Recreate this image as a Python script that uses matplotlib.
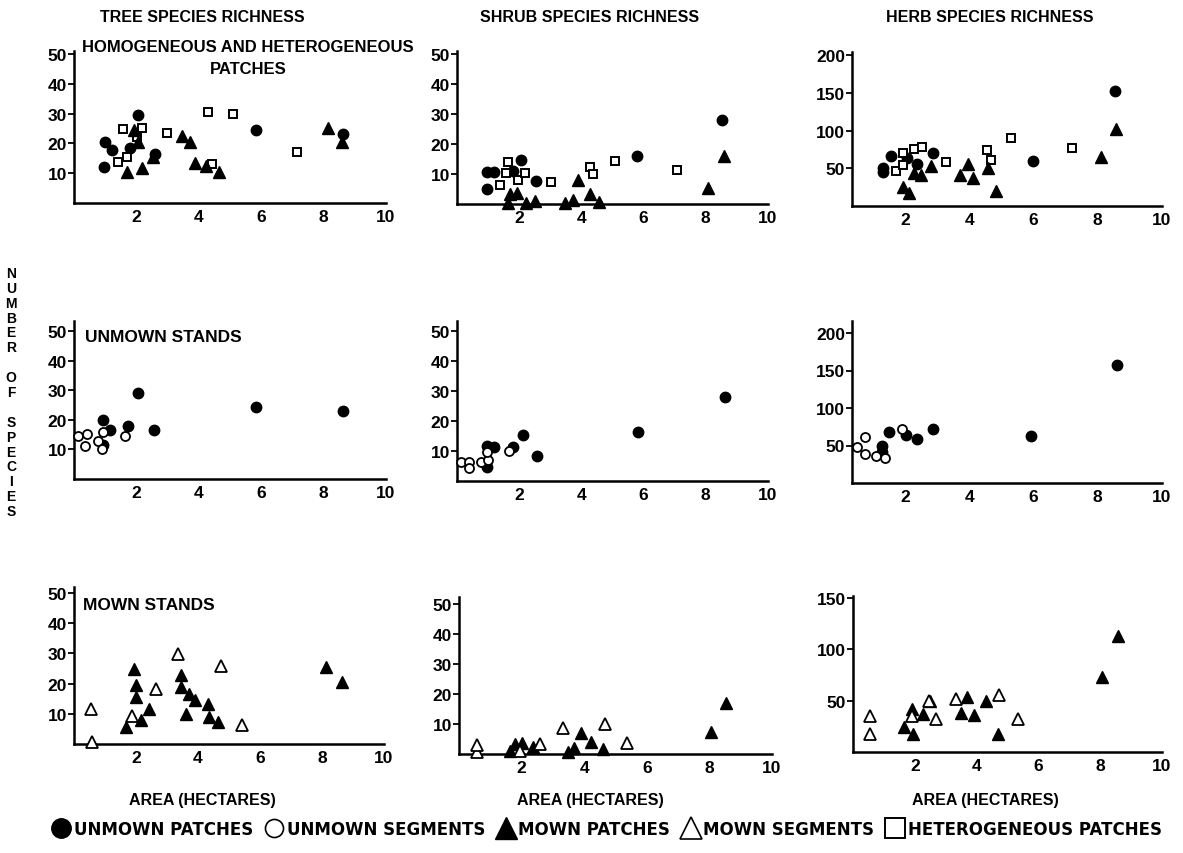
import matplotlib
matplotlib.use('Agg')
import matplotlib.pyplot as plt
from matplotlib.lines import Line2D

plt.rcParams['font.family'] = ['Liberation Sans', 'DejaVu Sans']
plt.rcParams['font.weight'] = 'bold'

# ---- row 1: homogeneous and heterogeneous patches ----
tree1_up_x = [1.0, 1.22, 0.97, 2.05, 1.79, 2.6, 5.82, 8.63]
tree1_up_y = [20.3, 17.8, 12.2, 29.5, 18.3, 16.4, 24.5, 23.1]
tree1_het_x = [1.58, 2.19, 2.03, 1.41, 1.69, 2.98, 4.28, 5.1, 4.41, 7.15]
tree1_het_y = [24.8, 25.3, 22.0, 13.8, 15.6, 23.4, 30.6, 29.7, 13.0, 17.1]
tree1_mp_x = [1.69, 1.92, 2.05, 2.19, 2.52, 3.46, 3.71, 3.87, 4.23, 4.65, 8.14, 8.6]
tree1_mp_y = [10.4, 24.5, 20.3, 11.9, 15.6, 22.5, 20.5, 13.3, 12.4, 10.4, 25.3, 20.3]

shrub1_up_x = [0.96, 1.19, 0.96, 1.79, 2.07, 2.53, 5.8, 8.53]
shrub1_up_y = [10.6, 10.8, 5.0, 11.1, 14.8, 7.8, 15.9, 28.1]
shrub1_het_x = [1.65, 1.57, 1.38, 1.97, 2.18, 3.01, 4.28, 4.36, 5.09, 7.09]
shrub1_het_y = [14.1, 10.3, 6.3, 8.0, 10.3, 7.2, 12.2, 10.0, 14.2, 11.4]
shrub1_mp_x = [1.65, 1.7, 1.94, 2.21, 2.5, 3.46, 3.72, 3.88, 4.28, 4.55, 8.06, 8.6]
shrub1_mp_y = [0.3, 3.3, 3.7, 0.3, 1.1, 0.3, 1.4, 8.1, 3.3, 0.6, 5.2, 16.1]

herb1_up_x = [1.3, 1.3, 1.55, 2.07, 2.38, 2.86, 5.98, 8.55]
herb1_up_y = [50.9, 44.7, 66.2, 64.0, 55.3, 70.6, 59.6, 153]
herb1_het_x = [1.72, 1.93, 1.93, 2.28, 2.52, 3.28, 4.55, 4.67, 5.29, 7.2]
herb1_het_y = [46.5, 54.4, 69.7, 75.4, 78.5, 57.9, 74.1, 61.0, 89.5, 76.3]
herb1_mp_x = [1.95, 2.13, 2.28, 2.49, 2.8, 3.71, 3.97, 4.11, 4.57, 4.84, 8.1, 8.58]
herb1_mp_y = [24.6, 17.1, 43.4, 41.2, 53.5, 41.2, 55.3, 37.7, 50.0, 20.2, 65.4, 101.8]

# ---- row 2: unmown stands ----
tree2_up_x = [0.93, 1.15, 0.93, 1.73, 2.05, 2.55, 5.82, 8.63]
tree2_up_y = [20.0, 16.7, 11.6, 18.0, 29.1, 16.7, 24.4, 23.0]
tree2_us_x = [0.14, 0.41, 0.36, 0.76, 0.93, 0.9, 1.65]
tree2_us_y = [14.7, 15.2, 11.1, 13.0, 16.0, 10.0, 14.4]

shrub2_up_x = [0.98, 1.19, 0.98, 1.81, 2.13, 2.56, 5.82, 8.61]
shrub2_up_y = [11.6, 11.3, 4.6, 11.4, 15.2, 8.5, 16.3, 28.2]
shrub2_us_x = [0.12, 0.37, 0.39, 0.76, 1.01, 0.98, 1.66]
shrub2_us_y = [6.2, 6.5, 4.3, 6.2, 7.1, 9.6, 9.9]

herb2_up_x = [1.27, 1.27, 1.51, 2.03, 2.36, 2.87, 5.92, 8.59]
herb2_up_y = [49.7, 41.6, 67.6, 64.0, 58.7, 72.1, 63.1, 158]
herb2_us_x = [0.5, 0.74, 0.74, 1.09, 1.37, 1.92]
herb2_us_y = [48.4, 61.8, 38.5, 35.4, 33.1, 72.1]

# ---- row 3: mown stands ----
tree3_ms_x = [0.54, 1.87, 2.63, 3.34, 4.75, 0.57, 5.43]
tree3_ms_y = [11.7, 9.3, 18.1, 29.9, 25.7, 0.8, 6.2]
tree3_mp_x = [1.67, 1.92, 2.0, 2.0, 2.17, 2.43, 3.45, 3.45, 3.7, 3.91, 3.61, 4.32, 4.35, 4.64, 8.12, 8.63]
tree3_mp_y = [5.6, 25.0, 19.7, 15.6, 7.8, 11.5, 23.0, 18.9, 16.7, 14.5, 10.1, 13.4, 9.0, 7.3, 25.5, 20.6]

shrub3_ms_x = [0.58, 0.58, 2.59, 3.31, 4.67, 5.38, 1.95]
shrub3_ms_y = [0.6, 3.0, 3.3, 8.6, 10.0, 3.7, 1.0]
shrub3_mp_x = [1.79, 2.0, 1.63, 2.37, 3.49, 3.67, 3.89, 4.21, 4.59, 8.05, 8.54]
shrub3_mp_y = [3.3, 3.7, 1.1, 2.2, 0.8, 1.9, 7.0, 3.9, 1.7, 7.2, 16.9]

herb3_ms_x = [0.56, 0.56, 1.92, 2.46, 2.68, 3.33, 4.74, 5.35]
herb3_ms_y = [17.1, 34.7, 34.7, 50.0, 32.0, 51.7, 55.1, 32.0]
herb3_mp_x = [1.64, 1.92, 1.95, 2.25, 2.49, 3.51, 3.7, 3.91, 4.32, 4.7, 8.05, 8.59]
herb3_mp_y = [24.6, 41.5, 17.1, 37.5, 50.0, 38.1, 53.4, 36.4, 50.0, 17.1, 72.7, 112.7]

col_titles = ['TREE SPECIES RICHNESS', 'SHRUB SPECIES RICHNESS', 'HERB SPECIES RICHNESS']
x_ticks = [2, 4, 6, 8, 10]
small_yticks = [10, 20, 30, 40, 50]

W, H = 1183, 854
fig = plt.figure(figsize=(W / 100, H / 100), dpi=100)


def rect(l, t, r, b):
    return [l / W, 1 - b / H, (r - l) / W, (b - t) / H]


# style for each series
STYLE = {
    'up': dict(marker='o', ms=7.5, mfc='black', mec='black'),
    'us': dict(marker='o', ms=6.5, mfc='white', mec='black', mew=1.3),
    'mp': dict(marker='^', ms=9, mfc='black', mec='black'),
    'ms': dict(marker='^', ms=9, mfc='white', mec='black', mew=1.3),
    'het': dict(marker='s', ms=5.5, mfc='white', mec='black', mew=1.4),
}


def panel(box, xlim, ylim, yticks, series):
    ax = fig.add_axes(rect(*box))
    for kind, xs, ys in series:
        ax.plot(xs, ys, ls='none', clip_on=False, zorder=3, **STYLE[kind])
    ax.set_xlim(*xlim)
    ax.set_ylim(*ylim)
    ax.set_xticks(x_ticks)
    ax.set_yticks(yticks)
    ax.spines['top'].set_visible(False)
    ax.spines['right'].set_visible(False)
    ax.spines['left'].set_linewidth(1.8)
    ax.spines['bottom'].set_linewidth(1.8)
    ax.tick_params(axis='y', direction='out', length=4, width=1.3, labelsize=12.5, pad=1)
    ax.tick_params(axis='x', length=0, labelsize=12.5, pad=4)
    for lab in ax.get_xticklabels() + ax.get_yticklabels():
        lab.set_fontweight('bold')
    return ax


ax1 = panel((74, 52, 386, 204), (0, 10), (0, 51), small_yticks,
            [('up', tree1_up_x, tree1_up_y), ('het', tree1_het_x, tree1_het_y),
             ('mp', tree1_mp_x, tree1_mp_y)])
ax2 = panel((457, 52, 768, 205), (0, 10), (0, 51), small_yticks,
            [('up', shrub1_up_x, shrub1_up_y), ('het', shrub1_het_x, shrub1_het_y),
             ('mp', shrub1_mp_x, shrub1_mp_y)])
ax3 = panel((852, 53, 1162, 207), (0.35, 10), (0, 204), [50, 100, 150, 200],
            [('up', herb1_up_x, herb1_up_y), ('het', herb1_het_x, herb1_het_y),
             ('mp', herb1_mp_x, herb1_mp_y)])

ax4 = panel((74, 322, 386, 480), (0, 10), (0, 53.4), small_yticks,
            [('up', tree2_up_x, tree2_up_y), ('us', tree2_us_x, tree2_us_y)])
ax5 = panel((457, 322, 768, 482), (0, 10), (0, 53.4), small_yticks,
            [('up', shrub2_up_x, shrub2_up_y), ('us', shrub2_us_x, shrub2_us_y)])
ax6 = panel((852, 322, 1162, 484), (0.35, 10), (0, 216), [50, 100, 150, 200],
            [('up', herb2_up_x, herb2_up_y), ('us', herb2_us_x, herb2_us_y)])

ax7 = panel((74, 588, 384, 745), (0, 10), (0, 52), small_yticks,
            [('mp', tree3_mp_x, tree3_mp_y), ('ms', tree3_ms_x, tree3_ms_y)])
ax8 = panel((459, 598, 772, 755), (0, 10), (0, 52.3), small_yticks,
            [('mp', shrub3_mp_x, shrub3_mp_y), ('ms', shrub3_ms_x, shrub3_ms_y)])
ax9 = panel((853, 597, 1162, 753), (0, 10), (0, 152), [50, 100, 150],
            [('mp', herb3_mp_x, herb3_mp_y), ('ms', herb3_ms_x, herb3_ms_y)])

# panel notes
fig.text(248 / W, 1 - 48 / H, 'HOMOGENEOUS AND HETEROGENEOUS', ha='center', va='center',
         fontsize=12, fontweight='bold')
fig.text(248 / W, 1 - 70 / H, 'PATCHES', ha='center', va='center', fontsize=12, fontweight='bold')
fig.text(85 / W, 1 - 337 / H, 'UNMOWN STANDS', ha='left', va='center', fontsize=12.5, fontweight='bold')
fig.text(83 / W, 1 - 606 / H, 'MOWN STANDS', ha='left', va='center', fontsize=12.5, fontweight='bold')

# column titles
for cx, t in zip([202, 590, 990], col_titles):
    fig.text(cx / W, 1 - 17 / H, t, ha='center', va='center', fontsize=11.5, fontweight='bold')

# x labels under bottom row
for cx in [202, 590, 985]:
    fig.text(cx / W, 1 - 801 / H, 'AREA (HECTARES)', ha='center', va='center',
             fontsize=11.5, fontweight='bold')

# stacked y label
ylab = '\n'.join(list('NUMBER') + [''] + list('OF') + [''] + list('SPECIES'))
fig.text(11 / W, 1 - 393 / H, ylab, ha='center', va='center', fontsize=10,
         fontweight='bold', linespacing=1.08)

# legend
handles = [
    Line2D([], [], ls='none', marker='o', ms=14, mfc='black', mec='black'),
    Line2D([], [], ls='none', marker='o', ms=13, mfc='white', mec='black', mew=1.2),
    Line2D([], [], ls='none', marker='^', ms=16, mfc='black', mec='black'),
    Line2D([], [], ls='none', marker='^', ms=16, mfc='white', mec='black', mew=1.2),
    Line2D([], [], ls='none', marker='s', ms=14, mfc='white', mec='black', mew=1.4),
]
labels = ['UNMOWN PATCHES', 'UNMOWN SEGMENTS', 'MOWN PATCHES', 'MOWN SEGMENTS',
          'HETEROGENEOUS PATCHES']
leg = fig.legend(handles, labels, loc='center', bbox_to_anchor=(607 / W, 1 - 830 / H), ncol=5,
                 frameon=False, handletextpad=0.2, columnspacing=0.7, handlelength=1.1,
                 prop={'family': 'DejaVu Sans', 'size': 12, 'weight': 'bold'})

fig.savefig('out.png', dpi=100)
